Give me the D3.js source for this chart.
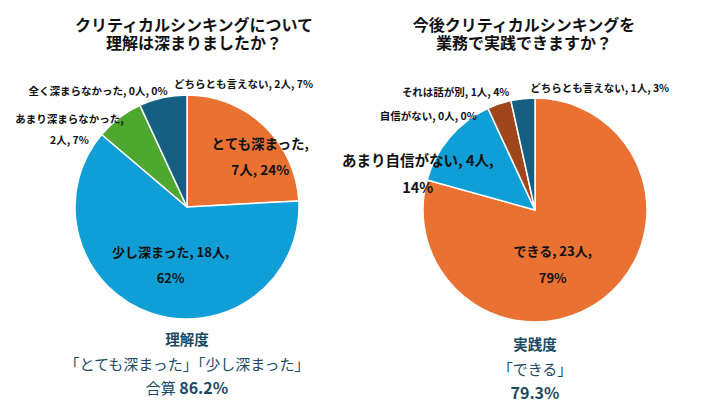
<!DOCTYPE html>
<html>
<head>
<meta charset="utf-8">
<script src="https://cdn.jsdelivr.net/npm/d3@7"></script>
<style>
  body { margin: 0; background: #fff; }
  text { font-family: "Noto Sans CJK JP", "Noto Sans", sans-serif; }
</style>
</head>
<body>
<script>
const W = 720, H = 405;

// chart 1: 理解度
const names1 = ["とても深まった", "少し深まった", "全く深まらなかった", "あまり深まらなかった", "どちらとも言えない"];
const counts1 = [7, 18, 0, 2, 2];
const pcts1 = [24, 62, 0, 7, 7];
const colors1 = ["#E97132", "#0F9ED5", "#196B24", "#4EA72E", "#156082"];
const title1 = ["クリティカルシンキングについて", "理解は深まりましたか？"];
const note1Head = "理解度";
const note1Body = "「とても深まった」「少し深まった」";
const note1Sum = ["合算 ", "86.2%"];

// chart 2: 実践度
const names2 = ["できる", "あまり自信がない", "自信がない", "それは話が別", "どちらとも言えない"];
const counts2 = [23, 4, 0, 1, 1];
const pcts2 = [79, 14, 0, 4, 3];
const colors2 = ["#E97132", "#0F9ED5", "#0E2841", "#A0461D", "#156082"];
const title2 = ["今後クリティカルシンキングを", "業務で実践できますか？"];
const note2Head = "実践度";
const note2Body = "「できる」";
const note2Sum = ["", "79.3%"];

const noteColor = "#1B4A62";
const R = 112;

// label layout per slice: radius factor, nudge, font size, line break (0 none, 1 after name, 2 after count), line gap
const layout1 = [
  { k: 0.6, dx: 27, dy: -2, fs: 13.5, brk: 1, gap: 26 },
  { k: 0.6, dx: 5, dy: -6, fs: 13, brk: 2, gap: 26 },
  { k: 1.1, dx: 5, dy: -37, fs: 10.5, brk: 0, gap: 0 },
  { k: 1.1, dx: -43, dy: 20, fs: 10.5, brk: 1, gap: 21 },
  { k: 1.1, dx: 83, dy: -3, fs: 10.5, brk: 0, gap: 0 }
];
const layout2 = [
  { k: 0.6, dx: -23, dy: 1, fs: 13, brk: 2, gap: 27 },
  { k: 0.6, dx: -66, dy: 6, fs: 14.5, brk: 2, gap: 27 },
  { k: 1.1, dx: -55, dy: 17, fs: 10.5, brk: 0, gap: 0 },
  { k: 1.1, dx: -40, dy: -2, fs: 10.5, brk: 0, gap: 0 },
  { k: 1.1, dx: 78, dy: 0, fs: 10.5, brk: 0, gap: 0 }
];

const svg = d3.select("body").append("svg")
  .attr("width", W)
  .attr("height", H);

function drawPie(cx, cy, names, counts, pcts, colors, layout, title, titleX, noteHead, noteBody, noteSum, noteY) {
  const g = svg.append("g").attr("transform", `translate(${cx},${cy})`);
  const pie = d3.pie().sort(null).value(d => d);
  const arcs = pie(counts);
  const arc = d3.arc().innerRadius(0).outerRadius(R);

  g.selectAll("path.slice")
    .data(arcs.filter(d => d.value > 0))
    .join("path")
    .attr("class", "slice")
    .attr("d", arc)
    .attr("fill", d => colors[d.index])
    .attr("stroke", "#fff")
    .attr("stroke-width", 1.5)
    .attr("stroke-linejoin", "round");

  arcs.forEach((d, i) => {
    const L = layout[i];
    const la = d3.arc().innerRadius(R * L.k).outerRadius(R * L.k);
    const [x, y] = la.centroid(d);
    const a = names[i] + ",";
    const b = counts[i] + "人,";
    const c = pcts[i] + "%";
    let lines;
    if (L.brk === 1) lines = [a, b + " " + c];
    else if (L.brk === 2) lines = [a + " " + b, c];
    else lines = [a + " " + b + " " + c];
    const y0 = y + L.dy - (lines.length - 1) * L.gap / 2;
    lines.forEach((t, j) => {
      g.append("text")
        .attr("x", x + L.dx)
        .attr("y", y0 + j * L.gap)
        .attr("text-anchor", "middle")
        .attr("dominant-baseline", "central")
        .attr("font-size", L.fs + "px")
        .attr("font-weight", "bold")
        .attr("fill", "#111")
        .text(t);
    });
  });

  // two-line title kept in one text element, tight leading like the original
  const tt = svg.append("text")
    .attr("x", titleX)
    .attr("y", 31)
    .attr("text-anchor", "middle")
    .attr("font-size", "16px")
    .attr("font-weight", "bold")
    .attr("fill", "#111");
  title.forEach((t, j) => {
    tt.append("tspan")
      .attr("x", titleX)
      .attr("dy", j === 0 ? 0 : 17.5)
      .text(t);
  });

  svg.append("text")
    .attr("x", cx).attr("y", noteY)
    .attr("text-anchor", "middle")
    .attr("dominant-baseline", "central")
    .attr("font-size", "14.5px")
    .attr("font-weight", "bold")
    .attr("fill", noteColor)
    .text(noteHead);

  svg.append("text")
    .attr("x", cx).attr("y", noteY + 25)
    .attr("text-anchor", "middle")
    .attr("dominant-baseline", "central")
    .attr("font-size", "15px")
    .attr("fill", noteColor)
    .text(noteBody);

  const sum = svg.append("text")
    .attr("x", cx).attr("y", noteY + 49)
    .attr("text-anchor", "middle")
    .attr("dominant-baseline", "central")
    .attr("font-size", "15px")
    .attr("fill", noteColor);
  if (noteSum[0]) sum.append("tspan").text(noteSum[0]);
  sum.append("tspan").attr("font-weight", "bold").attr("font-size", "16px").text(noteSum[1]);
}

drawPie(187, 207, names1, counts1, pcts1, colors1, layout1, title1, 194, note1Head, note1Body, note1Sum, 338);
drawPie(535, 210, names2, counts2, pcts2, colors2, layout2, title2, 524, note2Head, note2Body, note2Sum, 343);
</script>
</body>
</html>
